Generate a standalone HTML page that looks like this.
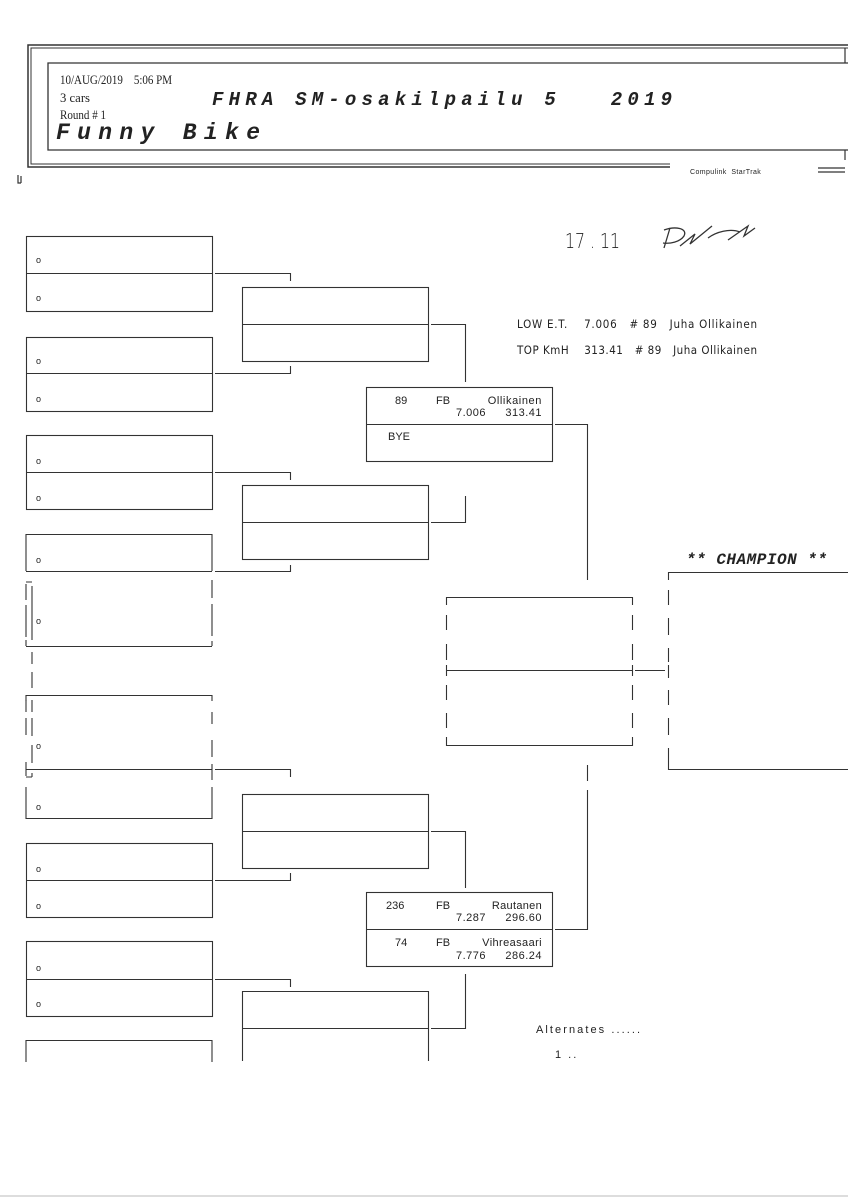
<!DOCTYPE html>
<html><head><meta charset="utf-8"><style>
html,body{margin:0;padding:0;background:#fff;}
svg{display:block;}
text{font-family:"Liberation Sans",sans-serif;fill:#222;}
.m{font-family:"Liberation Mono",monospace;}
</style></head><body>
<svg width="848" height="1200" viewBox="0 0 848 1200" xmlns="http://www.w3.org/2000/svg">
<g stroke="#333" fill="none" stroke-width="1.2">
<path d="M848 45 H28 V167 H670" stroke-width="1.5"/>
<path d="M848 48 H31 V164 H670" stroke-width="1"/>
<path d="M848 63 H48 V150 H848" stroke-width="1.3"/>
<path d="M845 48 V63 M845 150 V160"/>
<path d="M818 168 H845 M818 172 H845"/>
<path d="M18 175 V183 H21 M21 176 V183"/>
</g>
<text x="60" y="84" font-size="13" style="font-family:'Liberation Serif',serif" textLength="112" lengthAdjust="spacingAndGlyphs">10/AUG/2019&#160;&#160;&#160;&#160;5:06 PM</text>
<text x="60" y="102" font-size="13" style="font-family:'Liberation Serif',serif" textLength="30" lengthAdjust="spacingAndGlyphs">3 cars</text>
<text x="60" y="119" font-size="13" style="font-family:'Liberation Serif',serif" textLength="46" lengthAdjust="spacingAndGlyphs">Round # 1</text>
<text x="212" y="105" font-size="19" font-weight="bold" font-style="italic" class="m" textLength="460" lengthAdjust="spacing">FHRA SM-osakilpailu 5&#160;&#160;&#160;2019</text>
<text x="56" y="139" font-size="23" font-weight="bold" font-style="italic" class="m" textLength="204" lengthAdjust="spacing">Funny Bike</text>
<text x="690" y="174" font-size="7" letter-spacing="0.4">Compulink&#160;&#160;StarTrak</text>

<text x="565" y="248" font-size="20" style="font-family:'DejaVu Sans',sans-serif;font-weight:200" fill="#333" textLength="55" lengthAdjust="spacingAndGlyphs">17 . 11</text>
<g stroke="#333" fill="none" stroke-width="1.3">
<path d="M664 230 C675 226 688 228 684 236 C680 242 670 244 663 243 M670 228 L664 248 M680 246 L695 234 L690 244 L712 226 M708 238 C716 232 730 228 740 232 M728 240 L748 226 L744 236 L755 228"/>
</g>

<text x="517" y="328" font-size="11.5" style="font-family:'DejaVu Sans Condensed','DejaVu Sans',sans-serif" textLength="240" lengthAdjust="spacing">LOW E.T.&#160;&#160;&#160;&#160;7.006&#160;&#160;&#160;#&#160;89&#160;&#160;&#160;Juha Ollikainen</text>
<text x="517" y="354" font-size="11.5" style="font-family:'DejaVu Sans Condensed','DejaVu Sans',sans-serif" textLength="240" lengthAdjust="spacing">TOP KmH&#160;&#160;&#160;&#160;313.41&#160;&#160;&#160;#&#160;89&#160;&#160;&#160;Juha Ollikainen</text>

<g stroke="#333" fill="none" stroke-width="1.1">
<rect x="26.5" y="236.5" width="186" height="75"/><path d="M26 273.5 H212"/>
<rect x="26.5" y="337.5" width="186" height="74"/><path d="M26 373.5 H212"/>
<rect x="26.5" y="435.5" width="186" height="74"/><path d="M26 472.5 H212"/>
<path d="M26 571 V534.5 H212 V571 M26 571.5 H212"/>
<path d="M212 580 V598 M212 604 V636 M212 641 V646 M26 646.5 H212 M26 640 V646"/>
<path d="M26 584 V600 M26 605 V637 M26 582 H32 M32 586 V640 M32 652 V664 M32 672 V688 M32 700 V712 M32 718 V736 M32 745 V763 M26 700 V712 M26 718 V735 M26 777 H32 M32 773 V777"/>
<path d="M26 701 V695.5 H212 V701 M212 712 V724 M212 740 V757 M212 764 V780 M26 769.5 H212 M26 762 V776"/>
<path d="M26 787 V818.5 H212 V787"/>
<rect x="26.5" y="843.5" width="186" height="74"/><path d="M26 880.5 H212"/>
<rect x="26.5" y="941.5" width="186" height="75"/><path d="M26 979.5 H212"/>
<path d="M26 1062 V1040.5 H212 V1062"/>
<path d="M215 273.5 H290.5 V281 M215 373.5 H290.5 V366"/>
<path d="M215 472.5 H290.5 V480 M215 571.5 H290.5 V565"/>
<path d="M215 769.5 H290.5 V777 M215 880.5 H290.5 V873"/>
<path d="M215 979.5 H290.5 V987"/>
<rect x="242.5" y="287.5" width="186" height="74"/><path d="M242 324.5 H428"/>
<rect x="242.5" y="485.5" width="186" height="74"/><path d="M242 522.5 H428"/>
<rect x="242.5" y="794.5" width="186" height="74"/><path d="M242 831.5 H428"/>
<path d="M242.5 1061 V991.5 H428.5 V1061 M242 1028.5 H428"/>
<path d="M431 324.5 H465.5 V382 M431 522.5 H465.5 V496"/>
<path d="M431 831.5 H465.5 V888 M431 1028.5 H465.5 V974"/>
<rect x="366.5" y="387.5" width="186" height="74"/><path d="M366 424.5 H552"/>
<rect x="366.5" y="892.5" width="186" height="74"/><path d="M366 929.5 H552"/>
<path d="M555 424.5 H587.5 V580 M555 929.5 H587.5 V790 M587.5 765 V781"/>
<path d="M446.5 605 V597.5 H632.5 V605 M446.5 615 V630 M446.5 644 V660 M632.5 615 V630 M632.5 644 V660 M446 670.5 H633 M446.5 665 V676 M632.5 665 V676 M446.5 685 V700 M446.5 713 V728 M632.5 685 V700 M632.5 713 V728 M446.5 737 V745.5 H632.5 V737"/>
<path d="M635 670.5 H665"/>
<path d="M848 572.5 H668.5 V580 M668.5 590 V605 M668.5 618 V635 M668.5 648 V662 M668.5 665 V678 M668.5 690 V705 M668.5 718 V735 M668.5 748 V769.5 H848"/>
</g>
<text x="686" y="564" font-size="16" font-style="italic" class="m" font-weight="bold" fill="#222" textLength="141" lengthAdjust="spacing">** CHAMPION **</text>

<g font-size="9" class="m" fill="#333">
<text x="36" y="263">o</text><text x="36" y="301">o</text>
<text x="36" y="364">o</text><text x="36" y="402">o</text>
<text x="36" y="464">o</text><text x="36" y="501">o</text>
<text x="36" y="563">o</text><text x="36" y="624">o</text>
<text x="36" y="749">o</text><text x="36" y="810">o</text>
<text x="36" y="872">o</text><text x="36" y="909">o</text>
<text x="36" y="971">o</text><text x="36" y="1007">o</text>
</g>

<g font-size="11" style="font-family:'DejaVu Sans Condensed','DejaVu Sans',sans-serif" fill="#222">
<text x="395" y="404">89</text><text x="436" y="404">FB</text><text x="542" y="404" text-anchor="end" letter-spacing="0.6">Ollikainen</text>
<text x="486" y="416" text-anchor="end" letter-spacing="0.5">7.006</text><text x="542" y="416" text-anchor="end" letter-spacing="0.5">313.41</text>
<text x="388" y="440">BYE</text>
<text x="386" y="909">236</text><text x="436" y="909">FB</text><text x="542" y="909" text-anchor="end" letter-spacing="0.3">Rautanen</text>
<text x="486" y="921" text-anchor="end" letter-spacing="0.5">7.287</text><text x="542" y="921" text-anchor="end" letter-spacing="0.5">296.60</text>
<text x="395" y="946">74</text><text x="436" y="946">FB</text><text x="542" y="946" text-anchor="end" letter-spacing="0.4">Vihreasaari</text>
<text x="486" y="959" text-anchor="end" letter-spacing="0.5">7.776</text><text x="542" y="959" text-anchor="end" letter-spacing="0.5">286.24</text>
<text x="536" y="1033" textLength="104" lengthAdjust="spacing">Alternates ......</text>
<text x="555" y="1058" letter-spacing="2">1 ..</text>
</g>
<path d="M0 1196 H848" stroke="#bbb" stroke-width="1"/>
</svg>
</body></html>
